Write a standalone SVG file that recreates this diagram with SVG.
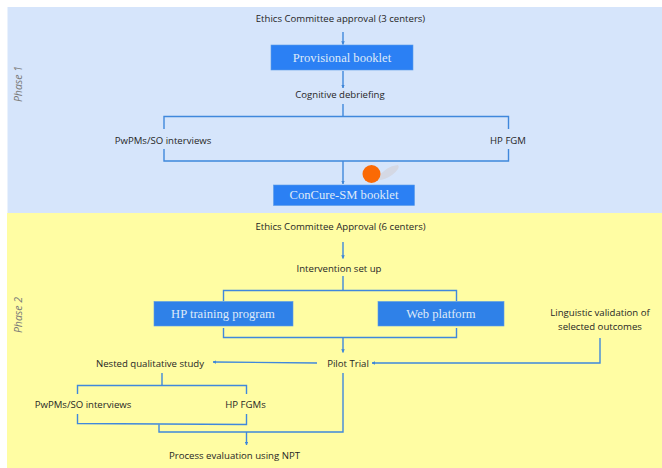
<svg xmlns="http://www.w3.org/2000/svg" width="662" height="468" viewBox="0 0 662 468">
<defs>
<marker id="ah" viewBox="0 0 6 6" refX="5.5" refY="3" markerWidth="2.6" markerHeight="2.6" orient="auto"><path d="M0 0L6 3L0 6Z" fill="#3f86d8"/></marker>
<filter id="s" x="-5%" y="-20%" width="110%" height="140%"><feGaussianBlur stdDeviation="0.3"/></filter>
</defs>
<style>
.t{font-family:"Open Sans","Noto Sans","DejaVu Sans",sans-serif;font-size:9.6px;fill:#262626;text-anchor:middle}
.b{font-family:"Liberation Serif","Times New Roman",serif;font-size:12.6px;fill:#dfeaf8;text-anchor:middle}
.p{font-family:"Open Sans","Noto Sans",sans-serif;font-size:10.500px;font-style:italic;fill:#7a7a78;text-anchor:middle}
.c{fill:none;stroke:#3f88dc;stroke-width:1.4}
.a{marker-end:url(#ah)}
.bx1{fill:#2b80f4;stroke:#5b9be8;stroke-width:.6}
.bx2{fill:#2f81e8;stroke:#5b9be8;stroke-width:.6}
</style>
<rect width="662" height="468" fill="#fff"/>
<g id="panels">
<rect x="7.500" y="7" width="654.500" height="206" fill="#d6e5fb"/>
<rect x="7" y="213" width="655" height="255" fill="#fffda3"/>
</g>
<g id="connectors" filter="url(#s)">
<path class="c a" d="M343 32V44.500"/>
<path class="c a" d="M343 71V88"/>
<path class="c" d="M343 104V116.500"/>
<path class="c" d="M164 129V116.500H508.500V129"/>
<path class="c" d="M164 149V161H508.500V149"/>
<path class="c a" d="M343 161V184"/>
<path class="c a" d="M343 242V258.500"/>
<path class="c" d="M343 276V290.500"/>
<path class="c" d="M223.500 301V290.500H456.500V301"/>
<path class="c" d="M223.500 328V337.500H456.500V328"/>
<path class="c a" d="M343 337.500V352.500"/>
<path class="c a" d="M317 363L213 362"/>
<path class="c a" d="M600 338V363H372"/>
<path class="c" d="M343 373V432H159V424.500"/>
<path class="c" d="M162 373V385.500"/>
<path class="c" d="M77.500 394V385.500H246.500V394"/>
<path class="c" d="M77.500 414V423.500L246.500 424.500V414"/>
<path class="c a" d="M246.500 432V445"/>
</g>
<g id="phase1"><text class="p" transform="translate(21.500 84) rotate(-90)">Phase 1</text></g>
<g id="phase2"><text class="p" transform="translate(21.500 315) rotate(-90)">Phase 2</text></g>
<g id="n-ethics1"><text class="t" x="340.500" y="21.500">Ethics Committee approval (3 centers)</text></g>
<g id="n-provisional"><rect class="bx1" x="271" y="45" width="142" height="25"/><text class="b" x="342" y="61.500">Provisional booklet</text></g>
<g id="n-cognitive"><text class="t" x="340" y="98">Cognitive debriefing</text></g>
<g id="n-pwpms1"><text class="t" x="163" y="143.500">PwPMs/SO interviews</text></g>
<g id="n-hpfgm"><text class="t" x="508" y="143.500">HP FGM</text></g>
<g id="n-concure"><rect class="bx1" x="273.500" y="185" width="141" height="20.500"/><text class="b" x="344" y="198.500">ConCure-SM booklet</text></g>
<g id="cursor">
<path d="M376 180Q385 166 398 165Q401 168 392 175Q384 181 376 180Z" fill="#d4d8e4"/>
<circle cx="371.500" cy="174" r="9" fill="#fb6a05"/>
</g>
<g id="n-ethics2"><text class="t" x="340.500" y="230">Ethics Committee Approval (6 centers)</text></g>
<g id="n-setup"><text class="t" x="339" y="271.500">Intervention set up</text></g>
<g id="n-hptraining"><rect class="bx2" x="154" y="301.500" width="139" height="24.500"/><text class="b" x="223" y="317.500">HP training program</text></g>
<g id="n-web"><rect class="bx2" x="378" y="301.500" width="126" height="24.500"/><text class="b" x="441" y="317.500">Web platform</text></g>
<g id="n-linguistic"><text class="t" x="600" y="316">Linguistic validation of</text><text class="t" x="600" y="329.500">selected outcomes</text></g>
<g id="n-pilot"><text class="t" x="348" y="366.500">Pilot Trial</text></g>
<g id="n-nested"><text class="t" x="150" y="366.500">Nested qualitative study</text></g>
<g id="n-pwpms2"><text class="t" x="83" y="407.500">PwPMs/SO interviews</text></g>
<g id="n-hpfgms"><text class="t" x="245.500" y="407.500">HP FGMs</text></g>
<g id="n-process"><text class="t" x="234.500" y="458.500">Process evaluation using NPT</text></g>
</svg>
